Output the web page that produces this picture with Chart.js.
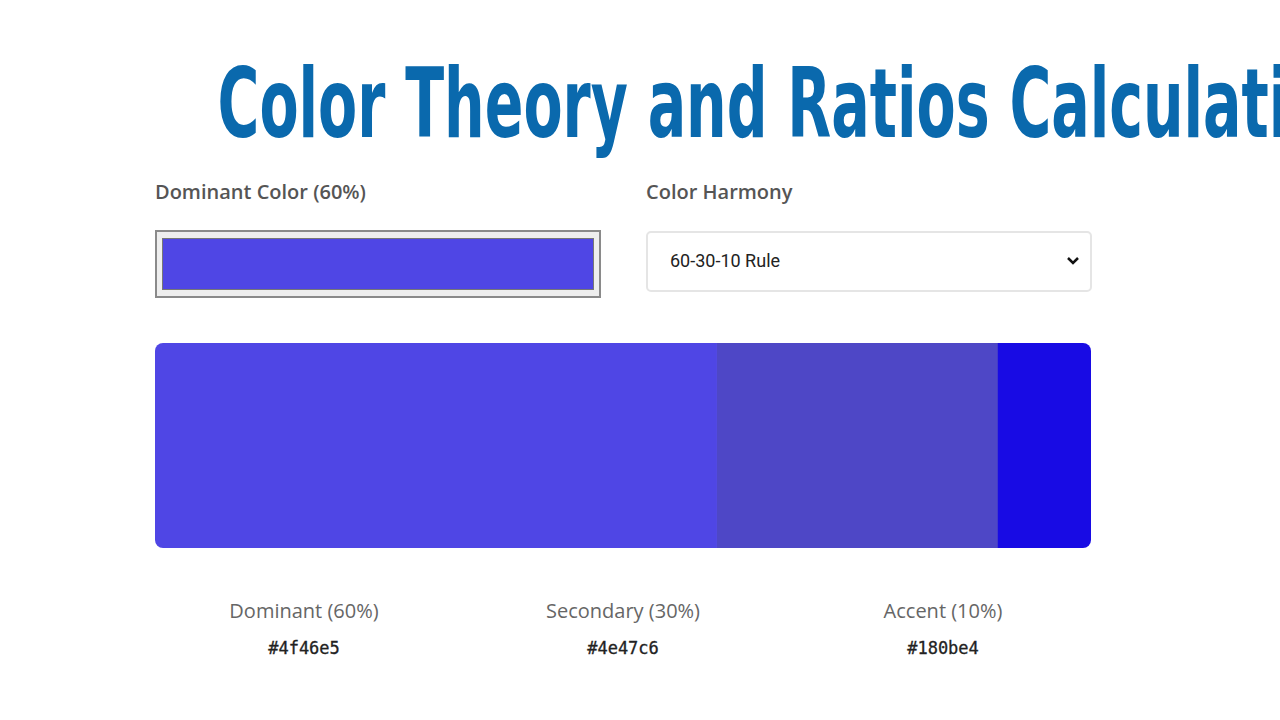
<!DOCTYPE html>
<html><head><meta charset="utf-8">
<script src="https://cdn.jsdelivr.net/npm/chart.js@4"></script>
<style>
body{margin:0;width:1280px;height:720px;background:#fff;position:relative;font-family:"Open Sans",sans-serif;overflow:hidden}
.t{position:absolute;left:0;width:1280px;top:48px;text-align:center;white-space:nowrap;font-family:"DejaVu Sans Condensed","DejaVu Sans",sans-serif;font-weight:bold;font-size:96px;color:#0a69ad;transform:scaleX(0.66);transform-origin:640px 0}
.lab{position:absolute;top:178px;font-size:20px;color:#555;font-weight:600}
.inp{position:absolute;left:155px;top:230px;width:442px;height:64px;border:2px solid #8a8a8a;background:#eee;box-sizing:content-box}
.inp div{position:absolute;left:5px;top:6px;right:5px;bottom:6px;background:#4f46e5;border:1px solid #777}
.sel{position:absolute;left:646px;top:231px;width:442px;height:57px;border:2px solid #e5e5e5;border-radius:5px;font-family:Roboto,sans-serif;font-size:18px;color:#222}
.sel span{position:absolute;left:22px;top:17px}
.sel svg{position:absolute;right:10px;top:23px}
#wrap{position:absolute;left:155px;top:343px;width:936px;height:205px;border-radius:8px;overflow:hidden}
.n{position:absolute;top:597px;width:300px;margin-left:-150px;text-align:center;font-size:20px;color:#666}
.h{position:absolute;top:638px;width:300px;margin-left:-150px;text-align:center;font-family:"DejaVu Sans Mono",monospace;font-size:17px;color:#222;-webkit-text-stroke:0.3px #222}
</style></head><body>
<div class="t">Color Theory and Ratios Calculation</div>
<div class="lab" style="left:155px">Dominant Color (60%)</div>
<div class="lab" style="left:646px">Color Harmony</div>
<div class="inp"><div></div></div>
<div class="sel"><span>60-30-10 Rule</span><svg width="14" height="10" viewBox="0 0 14 10"><path d="M2 2 L7 7 L12 2" stroke="#111" stroke-width="2.5" fill="none"/></svg></div>
<div id="wrap"><canvas id="c"></canvas></div>
<div id="names"></div>
<script>
const roles=["Dominant","Secondary","Accent"];
const ratios=[60,30,10];
const hexes=["#4f46e5","#4e47c6","#180be4"];
const centers=[304,623,943];
new Chart(document.getElementById('c'),{type:'bar',
data:{labels:["Palette"],datasets:roles.map((r,i)=>({label:r,data:[ratios[i]],backgroundColor:hexes[i],borderWidth:0,barPercentage:1,categoryPercentage:1}))},
options:{indexAxis:'y',responsive:true,maintainAspectRatio:false,animation:false,layout:{padding:0},
plugins:{legend:{display:false},tooltip:{enabled:false}},
scales:{x:{stacked:true,min:0,max:100,display:false},y:{stacked:true,display:false}}}});
let h='';
roles.forEach((r,i)=>{h+=`<div class="n" style="left:${centers[i]}px">${r} (${ratios[i]}%)</div><div class="h" style="left:${centers[i]}px">${hexes[i]}</div>`});
document.getElementById('names').innerHTML=h;
</script>
</body></html>
